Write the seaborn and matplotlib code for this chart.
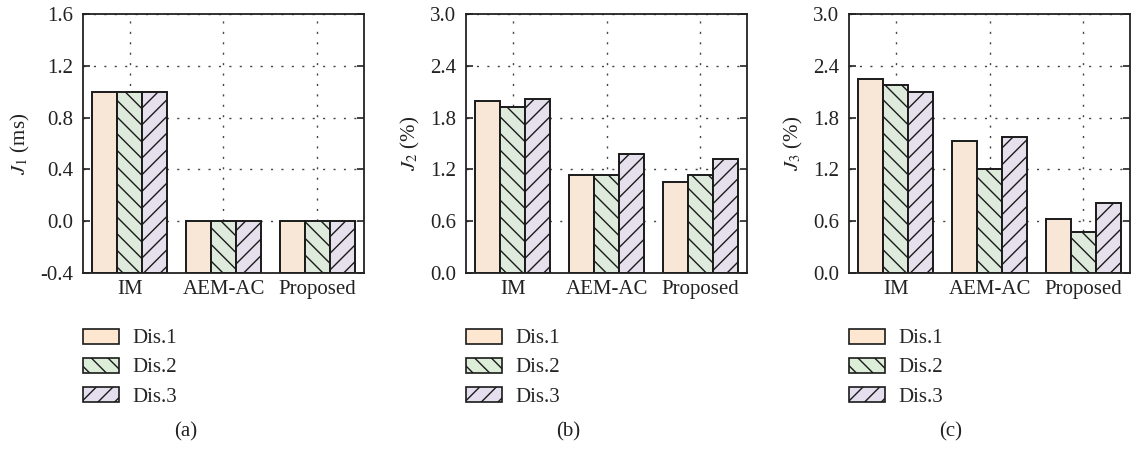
import numpy as np
import pandas as pd
import matplotlib
matplotlib.use("Agg")
import matplotlib.pyplot as plt
from matplotlib.patches import Patch
import seaborn as sns

# ---- data ----
methods = ["IM", "AEM-AC", "Proposed"]
disturbances = ["Dis.1", "Dis.2", "Dis.3"]

j1_dis1 = [1.00, 0.00, 0.00]
j1_dis2 = [1.00, 0.00, 0.00]
j1_dis3 = [1.00, 0.00, 0.00]

j2_dis1 = [1.99, 1.14, 1.05]
j2_dis2 = [1.92, 1.13, 1.14]
j2_dis3 = [2.01, 1.38, 1.32]

j3_dis1 = [2.25, 1.53, 0.63]
j3_dis2 = [2.18, 1.20, 0.48]
j3_dis3 = [2.10, 1.57, 0.81]

ylabels = [r"$J_1$ (ms)", r"$J_2$ (%)", r"$J_3$ (%)"]
yticks_a = [-0.4, 0.0, 0.4, 0.8, 1.2, 1.6]
yticks_b = [0.0, 0.6, 1.2, 1.8, 2.4, 3.0]
yticks_c = [0.0, 0.6, 1.2, 1.8, 2.4, 3.0]
panel_tags = ["(a)", "(b)", "(c)"]

fills = ["#FDE7D1", "#DCEDD8", "#E4DEEE"]
hatches = ["", "\\\\", "//"]

# ---- style ----
sns.set_theme(style="white")
plt.rcParams["font.family"] = ["Liberation Serif", "DejaVu Serif"]
plt.rcParams["mathtext.fontset"] = "stix"
plt.rcParams["hatch.linewidth"] = 1.0
plt.rcParams["hatch.color"] = "#1a1a1a"

FS = 15


def long_frame(d1, d2, d3):
    rows = []
    for name, vals in zip(disturbances, (d1, d2, d3)):
        for m, v in zip(methods, vals):
            rows.append({"method": m, "dist": name, "value": v})
    return pd.DataFrame(rows)


panels = [
    (long_frame(j1_dis1, j1_dis2, j1_dis3), yticks_a),
    (long_frame(j2_dis1, j2_dis2, j2_dis3), yticks_b),
    (long_frame(j3_dis1, j3_dis2, j3_dis3), yticks_c),
]

W, H = 1135, 449
fig = plt.figure(figsize=(W / 100, H / 100), dpi=100)

lefts = [83, 466, 849]
ax_w = 281
ax_top, ax_bot = 14, 273
tag_x = [186, 568, 951]

for i, (df, yt) in enumerate(panels):
    ax = fig.add_axes([lefts[i] / W, (H - ax_bot) / H, ax_w / W, (ax_bot - ax_top) / H])
    sns.barplot(
        data=df, x="method", y="value", hue="dist",
        order=methods, hue_order=disturbances,
        palette=fills, width=0.8, dodge=True,
        edgecolor="#1a1a1a", linewidth=1.4,
        errorbar=None, legend=False, ax=ax, zorder=2,
    )
    ymin = yt[0]
    for container, hatch in zip(ax.containers, hatches):
        for rect in container:
            rect.set_hatch(hatch)
            # bars rise from the bottom of the value axis
            top = rect.get_y() + rect.get_height()
            rect.set_y(ymin)
            rect.set_height(top - ymin)

    ax.set_ylim(yt[0], yt[-1])
    ax.set_xlim(-0.5, 2.5)
    ax.set_yticks(yt)
    ax.set_yticklabels([f"{v:.1f}" for v in yt], fontsize=FS)
    ax.set_xticks(range(len(methods)))
    ax.set_xticklabels(methods, fontsize=FS)
    ax.set_xlabel("")
    ax.set_ylabel(ylabels[i], fontsize=FS, color="#222222", labelpad=6)

    ax.tick_params(axis="y", direction="in", length=5, width=1.2, pad=7,
                   left=True, right=True, colors="#222222")
    ax.tick_params(axis="x", length=0, pad=5, colors="#222222")
    for s in ax.spines.values():
        s.set_visible(True)
        s.set_color("#222222")
        s.set_linewidth(1.3)

    ax.grid(True, axis="both", color="#444444", linestyle=(0, (1.5, 6)),
            linewidth=1.0)
    ax.set_axisbelow(True)

    handles = [Patch(facecolor=c, edgecolor="#1a1a1a", hatch=h, linewidth=1.2)
               for c, h in zip(fills, hatches)]
    ax.legend(handles, disturbances, loc="upper left",
              bbox_to_anchor=(0.0, -0.215), frameon=False, fontsize=FS,
              handlelength=1.75, handleheight=0.72, handletextpad=0.6,
              labelspacing=0.45, borderpad=0, borderaxespad=0)

    fig.text(tag_x[i] / W, 1 - 432 / H, panel_tags[i], fontsize=FS,
             ha="center", va="center", color="#222222")

fig.savefig("out.png", dpi=100)
